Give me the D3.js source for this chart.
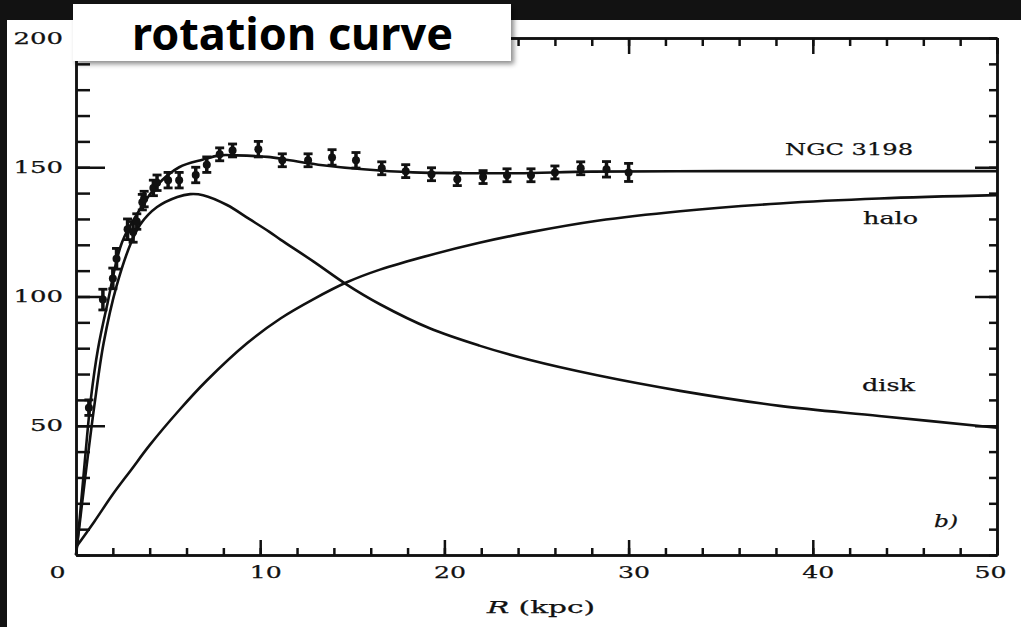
<!DOCTYPE html>
<html>
<head>
<meta charset="utf-8">
<script src="https://cdn.jsdelivr.net/npm/d3@7"></script>
<style>
  body { margin: 0; background: #111; }
  svg { display: block; }
  .axis .domain, .axis line { stroke: #111; stroke-width: 2.5; }
  .lbl text, .note { font-family: "DejaVu Serif", serif; fill: #111; stroke: #111; stroke-width: 0.25; }
</style>
</head>
<body>
<svg id="chart" width="1021" height="627"></svg>
<script>
// observed rotation velocities of NGC 3198 (km/s) with error bars
var obsR = [0.7, 1.46, 2.0, 2.2, 2.8, 3.1, 3.3, 3.6, 3.7, 4.2, 4.4, 5.0, 5.6, 6.5, 7.1, 7.8, 8.5, 9.9,
            11.2, 12.6, 13.9, 15.2, 16.6, 17.9, 19.3, 20.7, 22.1, 23.4, 24.7, 26.0, 27.4, 28.8, 30.0]
var obsV = [57, 98.8, 107, 114.6, 126, 125, 129, 136.5, 137.7, 142, 144, 145, 145, 147, 151, 155, 156.5, 157,
            152.7, 152.7, 153.8, 152.7, 149.6, 148.5, 147.3, 145.4, 146.2, 146.9, 146.9, 148, 149.6, 149.2, 148]
var obsErr = [3, 4, 4, 4, 4, 4, 3, 3, 3, 3, 3, 3, 3, 3, 3, 2.5, 2.5, 3,
              2.5, 2.5, 3, 3, 2.5, 2.5, 2.5, 2.5, 2.5, 2.5, 2.5, 2.5, 2.5, 3, 3.5]

// model fit (total), disk and halo contributions
var fitR = [0, 0.2, 0.5, 0.8, 1.2, 1.7, 2.5, 3.5, 4.4, 5.6, 6.9, 7.8, 8.7, 10.4, 11.6, 13.4, 15.6, 18.3, 21, 24, 28, 35, 42, 50]
var fitV = [0, 14, 38, 60, 80, 97, 121, 134, 143, 150, 153, 154.6, 154.6, 154, 152.7, 150.8, 149.2, 148, 147.7, 147.7, 148.3, 148.5, 148.5, 148.5]

var diskR = [0, 0.5, 1, 1.5, 2.2, 3, 3.5, 4.4, 5.5, 6.2, 6.9, 8.2, 9.4, 10.5, 11.1, 12.9, 14.7, 16.5, 19.2, 21.9, 24.6, 28.3, 32.8, 38.2, 43.6, 50]
var diskV = [0, 30, 58, 82, 104, 121, 128, 134.6, 138.5, 139.6, 139.2, 135.4, 130, 125, 122, 113.5, 104.6, 97, 87.7, 81, 75.5, 69.5, 63.5, 57.7, 53.8, 49.2]

var haloR = [0, 1, 2, 3, 4, 5.6, 7.1, 9.3, 11.1, 12.9, 14.7, 16.5, 19.2, 21.9, 24.6, 28.3, 32.8, 38.2, 43.6, 50]
var haloV = [3, 13, 23.5, 33, 42.5, 56, 67.5, 82, 91.5, 99, 105.5, 110.4, 116, 120.8, 124.8, 129.3, 133, 136, 137.9, 139.2]

var xMajor = [0, 10, 20, 30, 40, 50]
var xMinor = d3.range(0, 51, 2)
var yMajor = [50, 100, 150]
var yMinor = d3.range(0, 201, 10)
var yLabels = [50, 100, 150, 200]

var svg = d3.select("#chart")
var W = 1021, H = 627

// dark backdrop and the white paper
svg.append("rect").attr("width", W).attr("height", H).attr("fill", "#121212")
svg.append("rect").attr("x", 7).attr("y", 20).attr("width", W - 7).attr("height", H - 20).attr("fill", "#fff")

var x = d3.scaleLinear().domain([0, 50]).range([76, 997])
var y = d3.scaleLinear().domain([0, 200]).range([555, 38])

// frame with ticks on all four sides
function axisG(t) { return svg.append("g").attr("class", "axis").attr("transform", t) }

axisG("translate(0," + y(0) + ")").call(d3.axisBottom(x).tickValues(xMinor).tickSize(-7).tickSizeOuter(0).tickFormat(""))
axisG("translate(0," + y(0) + ")").call(d3.axisBottom(x).tickValues(xMajor).tickSize(-15).tickSizeOuter(0).tickFormat(""))
axisG("translate(0," + y(200) + ")").call(d3.axisTop(x).tickValues(xMinor).tickSize(-8).tickSizeOuter(0).tickFormat(""))
axisG("translate(0," + y(200) + ")").call(d3.axisTop(x).tickValues(xMajor).tickSize(-16).tickSizeOuter(0).tickFormat(""))
axisG("translate(" + x(0) + ",0)").call(d3.axisLeft(y).tickValues(yMinor).tickSize(-14).tickSizeOuter(0).tickFormat(""))
axisG("translate(" + x(0) + ",0)").call(d3.axisLeft(y).tickValues(yMajor).tickSize(-29).tickSizeOuter(0).tickFormat(""))
axisG("translate(" + x(50) + ",0)").call(d3.axisRight(y).tickValues(yMinor).tickSize(-8).tickSizeOuter(0).tickFormat(""))
axisG("translate(" + x(50) + ",0)").call(d3.axisRight(y).tickValues(yMajor).tickSize(-22).tickSizeOuter(0).tickFormat(""))

// tick labels (wide old-style digits)
var xl = svg.append("g").attr("class", "lbl").attr("transform", "translate(0," + y(0) + ")")
  .call(d3.axisBottom(x).tickValues(xMajor).tickSize(0).tickPadding(12))
xl.select(".domain").remove()
xl.selectAll("text").attr("font-size", 16)
  .attr("dx", function(d) { return d == 0 ? -19 : d == 50 ? -7 : 5 })
  .attr("textLength", function(d) { return String(d).length * 16 })
  .attr("lengthAdjust", "spacingAndGlyphs")

var yl = svg.append("g").attr("class", "lbl").attr("transform", "translate(" + x(0) + ",0)")
  .call(d3.axisLeft(y).tickValues(yLabels).tickSize(0).tickPadding(13))
yl.select(".domain").remove()
yl.selectAll("text").attr("font-size", 16)
  .attr("textLength", function(d) { return String(d).length * 16.5 })
  .attr("lengthAdjust", "spacingAndGlyphs")

// curves
var line = d3.line().x(function(d) { return x(d[0]) }).y(function(d) { return y(d[1]) }).curve(d3.curveCatmullRom.alpha(0.5))
var curves = [d3.zip(fitR, fitV), d3.zip(diskR, diskV), d3.zip(haloR, haloV)]
svg.selectAll("path.curve").data(curves).enter().append("path")
  .attr("class", "curve")
  .attr("d", line)
  .attr("fill", "none")
  .attr("stroke", "#111")
  .attr("stroke-width", 2.6)

// data points with error bars
var obs = d3.zip(obsR, obsV, obsErr)
var pts = svg.selectAll("g.pt").data(obs).enter().append("g").attr("class", "pt")
pts.append("line")
  .attr("x1", function(d) { return x(d[0]) }).attr("x2", function(d) { return x(d[0]) })
  .attr("y1", function(d) { return y(d[1] + d[2]) }).attr("y2", function(d) { return y(d[1] - d[2]) })
  .attr("stroke", "#111").attr("stroke-width", 3.5)
pts.selectAll("line.cap").data(function(d) { return [[d[0], d[1] + d[2]], [d[0], d[1] - d[2]]] }).enter().append("line")
  .attr("class", "cap")
  .attr("x1", function(d) { return x(d[0]) - 4.5 }).attr("x2", function(d) { return x(d[0]) + 4.5 })
  .attr("y1", function(d) { return y(d[1]) }).attr("y2", function(d) { return y(d[1]) })
  .attr("stroke", "#111").attr("stroke-width", 2.8)
pts.append("circle")
  .attr("cx", function(d) { return x(d[0]) }).attr("cy", function(d) { return y(d[1]) })
  .attr("r", 4).attr("fill", "#111")

// annotations
function note(t, px, py, len, size, italic) {
  return svg.append("text").attr("class", "note")
    .attr("x", px).attr("y", py)
    .attr("font-size", size)
    .attr("font-style", italic ? "italic" : null)
    .attr("textLength", len).attr("lengthAdjust", "spacingAndGlyphs")
    .text(t)
}
note("NGC 3198", 785, 155, 128, 16)
note("halo", 863, 224, 55, 16)
note("disk", 862, 391, 53, 16)
note("b)", 934, 527, 24, 17, true)
var xt = note("", 487, 613, 108, 16)
xt.append("tspan").attr("font-style", "italic").text("R")
xt.append("tspan").text(" (kpc)")

// title box
var defs = svg.append("defs")
var f = defs.append("filter").attr("id", "sh").attr("x", "-5%").attr("y", "-20%").attr("width", "115%").attr("height", "150%")
f.append("feDropShadow").attr("dx", 3).attr("dy", 3).attr("stdDeviation", 2.5).attr("flood-color", "#000").attr("flood-opacity", 0.45)
svg.append("rect").attr("x", 73).attr("y", 4).attr("width", 438).attr("height", 57)
  .attr("fill", "#fff").attr("filter", "url(#sh)")
svg.append("text").attr("x", 132).attr("y", 50)
  .attr("font-family", "'Noto Sans', sans-serif").attr("font-weight", "bold").attr("font-size", 45)
  .attr("fill", "#000")
  .text("rotation curve")
</script>
</body>
</html>
